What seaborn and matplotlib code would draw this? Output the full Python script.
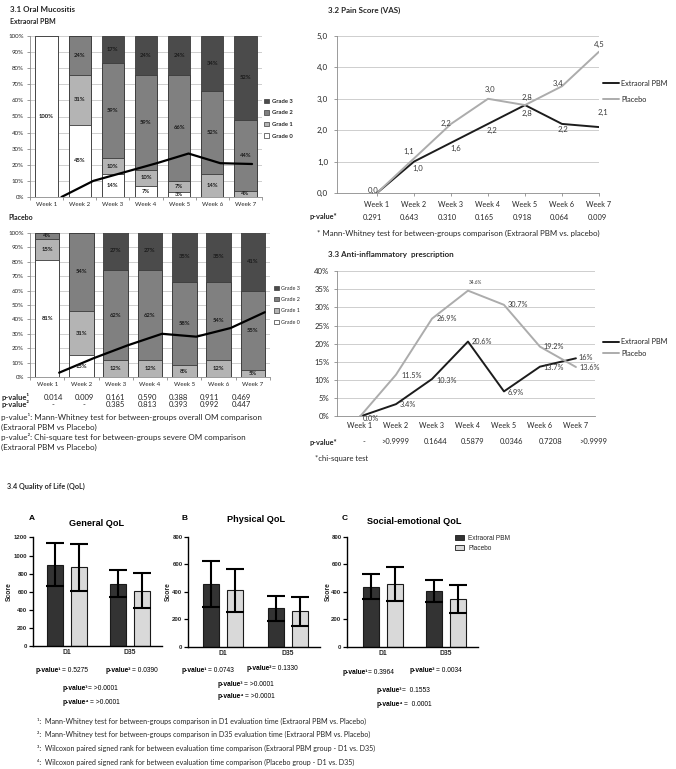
import numpy as np
import pandas as pd
import seaborn as sns
import matplotlib.pyplot as plt
from matplotlib.patches import Patch
from matplotlib.lines import Line2D

sns.set_theme(style="white")
plt.rcParams['font.family'] = ['Lato', 'DejaVu Sans']
plt.rcParams['axes.unicode_minus'] = False

W, H = 676, 769

# ---------------- data ----------------
weeks = ['Week 1', 'Week 2', 'Week 3', 'Week 4', 'Week 5', 'Week 6', 'Week 7']
grade_names = ['Grade 0', 'Grade 1', 'Grade 2', 'Grade 3']

# 3.1 oral mucositis, % of patients per grade
pbm_g0 = [100, 45, 14, 7, 3, 0, 0]
pbm_g1 = [0, 31, 10, 10, 7, 14, 4]
pbm_g2 = [0, 24, 59, 59, 66, 52, 44]
pbm_g3 = [0, 0, 17, 24, 24, 34, 52]
pbm_trend = [0, 10, 15.5, 21, 27, 21, 20.5]

pla_g0 = [81, 15, 0, 0, 0, 0, 0]
pla_g1 = [15, 31, 12, 12, 8, 12, 5]
pla_g2 = [4, 54, 62, 62, 58, 54, 55]
pla_g3 = [0, 0, 27, 27, 35, 35, 41]
pla_trend = [3, 13, 22, 30, 28, 34, 45]

om_p1 = ['0.014', '0.009', '0.161', '0.590', '0.388', '0.911', '0.469']
om_p2 = ['-', '-', '0.385', '0.813', '0.393', '0.992', '0.447']

# 3.2 pain score (VAS)
pain_pbm = [0.0, 1.0, 1.6, 2.2, 2.8, 2.2, 2.1]
pain_placebo = [0.0, 1.1, 2.2, 3.0, 2.8, 3.4, 4.5]
pain_p = ['0.291', '0.643', '0.310', '0.165', '0.918', '0.064', '0.009']

# 3.3 anti-inflammatory prescription (%)
anti_pbm = [0.0, 3.4, 10.3, 20.6, 6.9, 13.7, 16.0]
anti_placebo = [0.0, 11.5, 26.9, 34.6, 30.7, 19.2, 13.6]
anti_pbm_lbl = ['0.0%', '3.4%', '10.3%', '20.6%', '6.9%', '13.7%', '16%']
anti_placebo_lbl = ['', '11.5%', '26.9%', '34.6%', '30.7%', '19.2%', '13.6%']
anti_p = ['-', '>0.9999', '0.1644', '0.5879', '0.0346', '0.7208', '>0.9999']

# 3.4 quality of life, mean and SD
qol_times = ['D1', 'D35']
general_pbm = [900, 690]
general_pbm_sd = [235, 145]
general_pla = [868, 610]
general_pla_sd = [257, 195]
physical_pbm = [458, 280]
physical_pbm_sd = [168, 92]
physical_pla = [412, 257]
physical_pla_sd = [157, 107]
social_pbm = [438, 406]
social_pbm_sd = [92, 82]
social_pla = [455, 348]
social_pla_sd = [125, 101]

# ---------------- figure ----------------
fig = plt.figure(figsize=(W / 100, H / 100), dpi=100)


def px_axes(l, t, r, b):
    return fig.add_axes([l / W, 1 - b / H, (r - l) / W, (b - t) / H])


def fig_legend(handles, labels, x, y, **kw):
    fig.legend(handles, labels, loc='upper left', bbox_to_anchor=(x / W, 1 - y / H),
               frameon=False, borderpad=0, borderaxespad=0, **kw)


TXT = '#262626'
GRID = '#c6c6c6'
AXG = '#8a8a8a'
grade_colors = ['#ffffff', '#b4b4b4', '#808080', '#4b4b4b']
QFONT = ['Liberation Sans', 'DejaVu Sans']


def excel_axes(ax, fs):
    ax.set_axisbelow(True)
    ax.yaxis.grid(True, color=GRID, lw=0.6)
    ax.xaxis.grid(False)
    for s in ('top', 'right'):
        ax.spines[s].set_visible(False)
    for s in ('left', 'bottom'):
        ax.spines[s].set_color(AXG)
        ax.spines[s].set_linewidth(0.6)
    ax.tick_params(axis='y', left=True, length=2.5, width=0.6, color=AXG,
                   labelsize=fs, labelcolor=TXT, pad=2)
    ax.tick_params(axis='x', bottom=True, length=0, labelsize=fs, labelcolor=TXT)
    ax.set_xlabel('')
    ax.set_ylabel('')


def draw_om(ax, g0, g1, g2, g3, trend, trend_x, width):
    parts = np.array([g0, g1, g2, g3], dtype=float)
    tops = parts.cumsum(axis=0)
    for k in (3, 2, 1, 0):
        sns.barplot(x=weeks, y=tops[k], color=grade_colors[k], saturation=1,
                    width=width, edgecolor='#3a3a3a', linewidth=0.6, ax=ax)
    for k in range(4):
        for i, v in enumerate(parts[k]):
            if v > 0:
                ax.text(i, tops[k][i] - v / 2, f'{v:.0f}%', ha='center', va='center',
                        fontsize=4.2, fontweight='bold', color='#1a1a1a')
    sns.lineplot(x=trend_x, y=trend, color='black', lw=1.6, ax=ax)
    ax.set_xlim(-0.5, 6.5)
    ax.set_ylim(0, 100)
    ax.set_yticks(range(0, 101, 10), [f'{v}%' for v in range(0, 101, 10)])
    ax.set_xticks(range(7), weeks)
    ax.set_xticks(np.arange(-0.5, 7), minor=True)
    excel_axes(ax, 4.4)
    ax.tick_params(axis='x', which='minor', bottom=True, length=2.5, width=0.6, color=AXG)
    ax.tick_params(axis='x', which='major', pad=3.5)


# 3.1 Extraoral PBM
ax_om1 = px_axes(30, 36, 262, 197)
draw_om(ax_om1, pbm_g0, pbm_g1, pbm_g2, pbm_g3, pbm_trend, np.linspace(0.45, 6.2, 7), 0.67)
# 3.1 Placebo
ax_om2 = px_axes(30, 233, 270, 377)
draw_om(ax_om2, pla_g0, pla_g1, pla_g2, pla_g3, pla_trend, np.arange(7) + 0.35, 0.72)

grade_handles = [Patch(facecolor=grade_colors[k], edgecolor='#3a3a3a', lw=0.5) for k in (3, 2, 1, 0)]
grade_labels = [grade_names[k] for k in (3, 2, 1, 0)]
fig_legend(grade_handles, grade_labels, 264, 98.5, handlelength=0.9,
           handleheight=0.9, handletextpad=0.4, labelspacing=1.05, labelcolor=TXT,
           prop={'weight': 'bold', 'size': 4.2})
fig_legend(grade_handles, grade_labels, 274, 285.5, fontsize=3.9, handlelength=0.9,
           handleheight=0.9, handletextpad=0.4, labelspacing=1.15, labelcolor=TXT)

# 3.2 Pain score
x7 = np.arange(7)
ax_pain = px_axes(337, 36, 599, 193)
sns.lineplot(x=x7, y=pain_pbm, color='#1c1c1c', lw=1.4, ax=ax_pain)
sns.lineplot(x=x7, y=pain_placebo, color='#acacac', lw=1.4, ax=ax_pain)
ax_pain.set_xlim(-1.08, 6)
ax_pain.set_ylim(0, 5)
ax_pain.set_yticks(np.arange(0, 5.1, 1), [f'{v:.1f}'.replace('.', ',') for v in np.arange(0, 5.1, 1)])
ax_pain.set_xticks(x7, weeks)
excel_axes(ax_pain, 5.2)
ax_pain.tick_params(axis='x', length=2.5, width=0.6, color=AXG, pad=3)
ax_pain.tick_params(axis='y', labelsize=5.8, pad=4)

pain_pbm_off = [(-4, -3), (4, 7), (5, 6), (4, 7), (2, 8), (1, 6), (4, -15)]
pain_pla_off = [None, (-5, -7), (-5, 0), (2, -9), (2, -8), (-4, -3), (0, -7)]
for i in range(7):
    for vals, offs in ((pain_pbm, pain_pbm_off), (pain_placebo, pain_pla_off)):
        if offs[i] is None:
            continue
        dx, dy = offs[i]
        ax_pain.annotate(f'{vals[i]:.1f}'.replace('.', ','), (i, vals[i]),
                         xytext=(dx * 0.72, -dy * 0.72), textcoords='offset points',
                         ha='center', va='center', fontsize=5.6, color='#3a3a3a',
                         annotation_clip=False)

line_handles = [Line2D([], [], color='#1c1c1c', lw=1.4), Line2D([], [], color='#acacac', lw=1.4)]
fig_legend(line_handles, ['Extraoral PBM', 'Placebo'], 603, 79.5, fontsize=5.3,
           handlelength=2.2, handletextpad=0.25, labelspacing=1.25, labelcolor=TXT)

# 3.3 Anti-inflammatory prescription
ax_anti = px_axes(337, 271, 595, 416.5)
sns.lineplot(x=x7, y=anti_pbm, color='#1c1c1c', lw=1.4, ax=ax_anti)
sns.lineplot(x=x7, y=anti_placebo, color='#acacac', lw=1.4, ax=ax_anti)
ax_anti.set_xlim(-0.64, 6.53)
ax_anti.set_ylim(0, 40)
ax_anti.set_yticks(range(0, 41, 5), [f'{v}%' for v in range(0, 41, 5)])
ax_anti.set_xticks(x7, weeks)
excel_axes(ax_anti, 5.2)
ax_anti.tick_params(axis='x', pad=4)
ax_anti.tick_params(axis='y', labelsize=5.6, pad=3)

anti_pbm_off = [(3, 2), (4, 0), (4, 1), (4, 0), (4, 1), (4, 1), (3, -1)]
anti_pla_off = [(0, 0), (5, 1), (5, 0), (1, -8), (4, 0), (4, 0), (4, 0)]
for i in range(7):
    for vals, lbls, offs in ((anti_pbm, anti_pbm_lbl, anti_pbm_off),
                             (anti_placebo, anti_placebo_lbl, anti_pla_off)):
        if not lbls[i]:
            continue
        dx, dy = offs[i]
        ax_anti.annotate(lbls[i], (i, vals[i]), xytext=(dx * 0.72, -dy * 0.72),
                         textcoords='offset points', ha='left', va='center',
                         fontsize=3.4 if lbls[i] == '34.6%' else 5.3, color='#3a3a3a',
                         annotation_clip=False)
fig_legend(line_handles, ['Extraoral PBM', 'Placebo'], 603, 338.5, fontsize=5.3,
           handlelength=2.2, handletextpad=0.25, labelspacing=0.55, labelcolor=TXT)

# 3.4 Quality of life
qol_palette = {'Extraoral PBM': '#333333', 'Placebo': '#d9d9d9'}


def draw_qol(ax, pbm, pbm_sd, pla, pla_sd, ymax, xlim):
    df = pd.DataFrame({'time': qol_times * 2,
                       'group': ['Extraoral PBM'] * 2 + ['Placebo'] * 2,
                       'score': pbm + pla})
    sns.barplot(data=df, x='time', y='score', hue='group', palette=qol_palette,
                width=0.75, gap=0.33, errorbar=None, legend=False, saturation=1,
                edgecolor='#1a1a1a', linewidth=0.8, ax=ax)
    for cont, sds in zip(ax.containers, (pbm_sd, pla_sd)):
        for bar, s in zip(cont, sds):
            ax.errorbar(bar.get_x() + bar.get_width() / 2, bar.get_height(), yerr=s,
                        color='black', lw=1.5, capsize=6.5, capthick=1.5)
    ax.set_xlim(*xlim)
    ax.set_ylim(0, ymax)
    ax.set_yticks(range(0, ymax + 1, 200), [str(v) for v in range(0, ymax + 1, 200)],
                  fontweight='bold', family=QFONT)
    ax.set_xticks([0, 1], qol_times, fontweight='bold', family=QFONT)
    for s in ('top', 'right'):
        ax.spines[s].set_visible(False)
    for s in ('left', 'bottom'):
        ax.spines[s].set_color('black')
        ax.spines[s].set_linewidth(1.0)
    ax.tick_params(axis='y', left=True, length=3, width=0.9, color='black',
                   labelsize=4.3, pad=1)
    ax.tick_params(axis='x', length=0, labelsize=4.9, pad=2.5)
    ax.set_xlabel('')
    ax.set_ylabel('Score', fontsize=4.9, fontweight='bold', family=QFONT)


ax_a = px_axes(33, 537.4, 162, 646)
draw_qol(ax_a, general_pbm, general_pbm_sd, general_pla, general_pla_sd, 1200, (-0.54, 1.51))
ax_a.yaxis.set_label_coords(-0.155, 0.5)
ax_b = px_axes(188, 537, 320, 646.7)
draw_qol(ax_b, physical_pbm, physical_pbm_sd, physical_pla, physical_pla_sd, 800, (-0.54, 1.49))
ax_b.yaxis.set_label_coords(-0.12, 0.5)
ax_c = px_axes(347, 537, 478, 646.7)
draw_qol(ax_c, social_pbm, social_pbm_sd, social_pla, social_pla_sd, 800, (-0.57, 1.51))
ax_c.yaxis.set_label_coords(-0.115, 0.5)

qol_handles = [Patch(facecolor=qol_palette[g], edgecolor='#1a1a1a', lw=0.6) for g in qol_palette]
fig_legend(qol_handles, list(qol_palette), 455, 535, handlelength=1.4, handleheight=0.9,
           handletextpad=0.6, labelspacing=0.45, prop={'family': QFONT, 'size': 4.7})

# ---------------- free text (pixel coordinates) ----------------
ax0 = fig.add_axes([0, 0, 1, 1])
ax0.set_xlim(0, W)
ax0.set_ylim(H, 0)
ax0.axis('off')


def t(x, y, s, **kw):
    kw.setdefault('va', 'center')
    kw.setdefault('color', TXT)
    return ax0.text(x, y, s, **kw)


t(10, 9, '3.1 Oral Mucositis', fontsize=5.8, fontweight='bold')
t(10, 22, 'Extraoral PBM', fontsize=5, fontweight='bold')
t(8, 218, 'Placebo', fontsize=5, fontweight='bold')
t(328, 10, '3.2 Pain Score (VAS)', fontsize=5.8, fontweight='bold')
t(328, 254, '3.3 Anti-inflammatory  prescription', fontsize=5.8, fontweight='bold')
t(7, 486, '3.4 Quality of Life (QoL)', fontsize=5.2, fontweight='bold')

# 3.1 p-value table
om_px = np.linspace(53, 241, 7)
t(1, 397, 'p-value¹', fontsize=5.5, fontweight='bold')
t(1, 404.5, 'p-value²', fontsize=5.5, fontweight='bold')
for x, a, b in zip(om_px, om_p1, om_p2):
    t(x, 397, a, fontsize=5.5, ha='center')
    t(x, 404.5, b, fontsize=5.5, ha='center')
for y, s in zip([417, 427, 437, 447],
                ['p-value¹: Mann-Whitney test for between-groups overall OM comparison',
                 '(Extraoral PBM vs Placebo)',
                 'p-value²: Chi-square test for between-groups severe OM comparison',
                 '(Extraoral PBM vs Placebo)']):
    t(1, y, s, fontsize=5.8)

# 3.2 p-values
t(310, 217, 'p-value*', fontsize=5.3, fontweight='bold')
for x, s in zip([372, 409, 447, 484, 522, 559, 597], pain_p):
    t(x, 217, s, fontsize=5.4, ha='center')
t(317, 233, '* Mann-Whitney test for between-groups comparison (Extraoral PBM vs. placebo)',
  fontsize=5.7)

# 3.3 p-values
t(310, 442, 'p-value*', fontsize=5.3, fontweight='bold')
for x, s in zip([364, 395, 436, 473, 512, 551, 593], anti_p):
    t(x, 442, s, fontsize=5.4, ha='center')
t(315, 459, '*chi-square test', fontsize=5.5)

# 3.4 panel titles
for x, y, s in [(32, 519, 'A'), (185, 518, 'B'), (345, 519, 'C')]:
    t(x, y, s, fontsize=6, fontweight='bold', family=QFONT, color='black', ha='center')
for x, y, s in [(97, 523, 'General QoL'), (256, 520, 'Physical QoL'),
                (414, 522, 'Social-emotional QoL')]:
    t(x, y, s, fontsize=6.6, fontweight='bold', family=QFONT, color='black', ha='center')

# 3.4 p-values
qol_pvals = [('¹', '= 0.5275', 36, 671), ('²', '= 0.0390', 106, 670),
             ('³', '= >0.0001', 63, 688), ('⁴', '= >0.0001', 63, 702),
             ('¹', '= 0.0743', 182, 671), ('²', '= 0.1330', 247, 669),
             ('³', '= >0.0001', 218, 684), ('⁴', '= >0.0001', 218, 697),
             ('¹', '= 0.3964', 343, 672), ('²', '= 0.0034', 410, 670),
             ('³', '=  0.1553', 377, 690), ('⁴', '=  0.0001', 377, 704)]
for sup, val, x, y in qol_pvals:
    lab = t(x, y, 'p-value' + sup, fontsize=4.8, fontweight='bold', family=QFONT, color='black')
    ax0.annotate(val, xy=(1, 0), xycoords=lab, va='bottom', ha='left',
                 fontsize=4.8, family=QFONT, color='black')

for y, s in zip([721, 734, 748, 762],
                ['¹:  Mann-Whitney test for between-groups comparison in D1 evaluation time (Extraoral PBM vs. Placebo)',
                 '²:  Mann-Whitney test for between-groups comparison in D35 evaluation time (Extraoral PBM vs. Placebo)',
                 '³:  Wilcoxon paired signed rank for between evaluation time comparison (Extraoral PBM group - D1 vs. D35)',
                 '⁴:  Wilcoxon paired signed rank for between evaluation time comparison (Placebo group - D1 vs. D35)']):
    t(37, y, s, fontsize=5.1)

fig.savefig('out.png', dpi=100, facecolor='white')
